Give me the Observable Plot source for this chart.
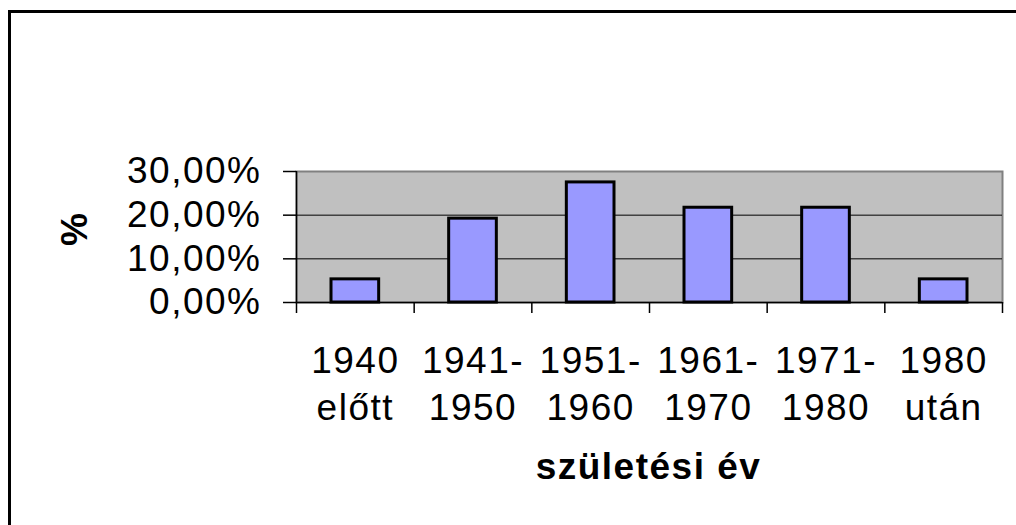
<!DOCTYPE html>
<html>
<head>
<meta charset="utf-8">
<script src="https://cdn.jsdelivr.net/npm/d3@7"></script>
<script src="https://cdn.jsdelivr.net/npm/@observablehq/plot@0.6"></script>
<style>
  html, body { margin: 0; padding: 0; background: #fff; overflow: hidden; }
  #wrap { position: relative; width: 1016px; height: 525px; overflow: hidden; }
  #frame { position: absolute; left: 8px; top: 10px; width: 1100px; height: 700px; border-left: 3px solid #000; border-top: 3px solid #000; pointer-events: none; }
  #chart svg { display: block; font-family: "Liberation Sans", Arial, sans-serif; letter-spacing: 1.5px; }
  #chart g[aria-label="xtitle"] text { letter-spacing: 3px; }
  #chart g[aria-label="ytitle"] text { letter-spacing: 0px; }
</style>
</head>
<body>
<div id="wrap"><div id="chart"></div><div id="frame"></div></div>
<script>
const categories = ["1940\nelőtt", "1941-\n1950", "1951-\n1960", "1961-\n1970", "1971-\n1980", "1980\nután"];
const values = [0.053, 0.192, 0.275, 0.217, 0.217, 0.053];
const yTicks = [0, 0.1, 0.2, 0.3];
const yTitle = "%";
const xTitle = "születési év";

const data = categories.map((c, i) => ({category: c, index: i, value: values[i]}));
const boundaries = d3.range(categories.length + 1);
const fmt = d => (d * 100).toFixed(2).replace(".", ",") + "%";

const chart = Plot.plot({
  width: 1016,
  height: 525,
  marginLeft: 296,
  marginRight: 14,
  marginTop: 171,
  marginBottom: 223,
  style: {fontFamily: "'Liberation Sans', Arial, sans-serif", background: "#fff", color: "#000"},
  x: {type: "linear", domain: [0, categories.length]},
  y: {domain: [0, 0.3]},
  marks: [
    Plot.frame({fill: "#C0C0C0", stroke: "#808080", strokeWidth: 2}),
    Plot.ruleY(yTicks.filter(t => t > 0 && t < 0.3), {stroke: "#000", strokeWidth: 1}),
    Plot.rectY(data, {
      x1: d => d.index, x2: d => d.index + 1, y: "value",
      insetLeft: 35, insetRight: 35,
      fill: "#9999FF", stroke: "#000", strokeWidth: 3
    }),
    Plot.ruleY([0], {stroke: "#000", strokeWidth: 1.5}),
    Plot.ruleX([0], {stroke: "#000", strokeWidth: 1.5}),
    Plot.axisY({ticks: yTicks, tickSize: 13, tickPadding: 22, tickFormat: fmt, fontSize: 37, label: null, stroke: "#000", strokeWidth: 1.5}),
    Plot.axisX({ticks: boundaries, tickSize: 11, tickFormat: () => "", label: null, stroke: "#000", strokeWidth: 1.5}),
    Plot.text(data, {
      x: d => d.index + 0.5, y: () => 0, text: "category",
      lineAnchor: "top", dy: 38, fontSize: 37, lineHeight: 1.25, fill: "#000"
    }),
    Plot.text([xTitle], {
      frameAnchor: "bottom", lineAnchor: "bottom", dy: 176, dx: -1,
      fontSize: 37, fontWeight: "bold", fill: "#000", ariaLabel: "xtitle"
    }),
    Plot.text([yTitle], {
      frameAnchor: "left", rotate: -90, dx: -221, dy: 9,
      fontSize: 37, fontWeight: "bold", fill: "#000", ariaLabel: "ytitle"
    })
  ]
});
document.getElementById("chart").appendChild(chart);
</script>
</body>
</html>
